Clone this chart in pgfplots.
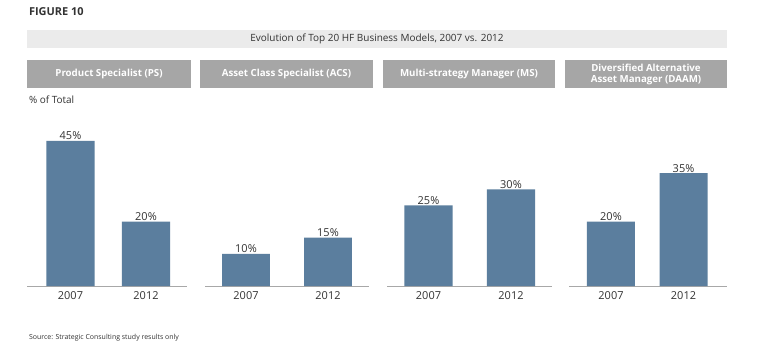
\documentclass[border=0pt]{standalone}
\usepackage{pgfplots}
\pgfplotsset{compat=1.18}
\usepackage{fontspec}
\setmainfont{Open Sans}
\definecolor{barblue}{HTML}{5B7E9E}
\definecolor{hdrgray}{HTML}{A6A6A6}
\definecolor{bandgray}{HTML}{EBEBEB}
\definecolor{txtgray}{HTML}{333333}
\definecolor{linegray}{HTML}{A8A8A8}
\pgfplotsset{
  panel/.style={
    scale only axis, height=156bp, ymin=0, ymax=48.4,
    axis x line*=bottom, axis y line=none,
    x axis line style={linegray, line width=0.8pt, -},
    xtick={0,1}, xticklabels={2007,2012}, major tick length=0pt,
    ticklabel style={font=\fontsize{11}{13}\selectfont, text=txtgray},
    xticklabel style={yshift=-2bp},
    /pgf/number format/assume math mode=true,
    ybar, bar shift=0pt,
    nodes near coords={\pgfmathprintnumber{\pgfplotspointmeta}\%},
    every node near coord/.append style={font=\fontsize{11}{13}\selectfont, text=txtgray, yshift=-2.5bp},
    clip=false,
  },
  barsty/.style={fill=barblue, draw=none},
}
\begin{document}
\begin{tikzpicture}[x=1bp,y=1bp]
\fill[white] (0,0) rectangle (759,358);
\node[anchor=west, font=\fontsize{11}{13}\selectfont\bfseries, text=txtgray] at (25.5,346) {FIGURE 10};
\fill[bandgray] (27,310) rectangle (727,328);
\node[font=\fontsize{10}{12}\selectfont, text=txtgray] at (377,319) {Evolution of Top 20 HF Business Models, 2007 vs. 2012};
\fill[hdrgray] (27,270) rectangle (191,298);
\fill[hdrgray] (200,270) rectangle (373,298);
\fill[hdrgray] (383,270) rectangle (555,298);
\fill[hdrgray] (565,270) rectangle (727,298);
\node[font=\fontsize{9.75}{11}\selectfont\bfseries, text=white] at (109,284) {Product Specialist (PS)};
\node[font=\fontsize{9.75}{11}\selectfont\bfseries, text=white] at (286.5,284) {Asset Class Specialist (ACS)};
\node[font=\fontsize{9.75}{11}\selectfont\bfseries, text=white] at (469,284) {Multi-strategy Manager (MS)};
\node[font=\fontsize{9.75}{11}\selectfont\bfseries, text=white, align=center] at (646,284) {Diversified Alternative\\Asset Manager (DAAM)};
\node[anchor=west, font=\fontsize{10}{12}\selectfont, text=txtgray] at (25.5,258) {\% of Total};
\node[anchor=west, font=\fontsize{7}{8}\selectfont, text=txtgray] at (25.5,20) {Source: Strategic Consulting study results only};

\begin{axis}[panel, at={(27bp,72bp)}, anchor=south west, width=160bp,
  xmin=-0.576, xmax=1.543, bar width=0.636]
\addplot[barsty] coordinates {(0,45) (1,20)};
\end{axis}
\begin{axis}[panel, at={(205bp,72bp)}, anchor=south west, width=164bp,
  xmin=-0.5, xmax=1.5, bar width=0.585]
\addplot[barsty] coordinates {(0,10) (1,15)};
\end{axis}
\begin{axis}[panel, at={(387bp,72bp)}, anchor=south west, width=165bp,
  xmin=-0.503, xmax=1.497, bar width=0.582]
\addplot[barsty] coordinates {(0,25) (1,30)};
\end{axis}
\begin{axis}[panel, at={(569bp,72bp)}, anchor=south west, width=158bp,
  xmin=-0.579, xmax=1.6, bar width=0.662]
\addplot[barsty] coordinates {(0,20) (1,35)};
\end{axis}
\end{tikzpicture}
\end{document}
